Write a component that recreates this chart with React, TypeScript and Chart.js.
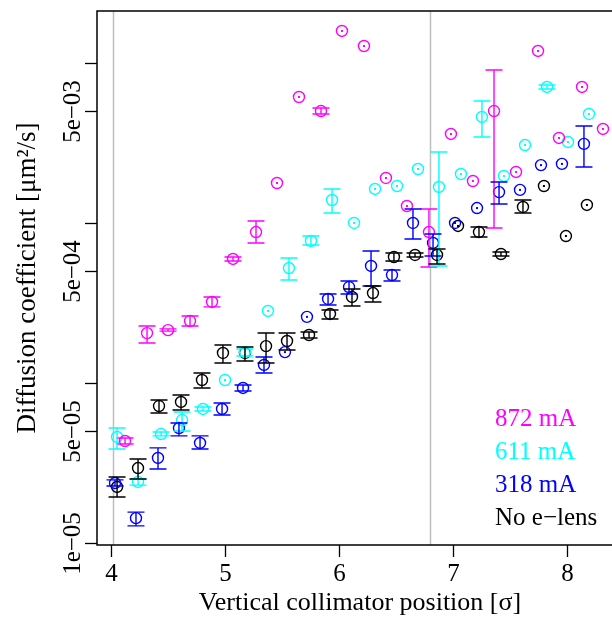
import React, { useEffect, useRef } from "react";
import { Chart, registerables } from "chart.js";
Chart.register(...registerables);

// ---- data ----
const X_NOLENS = [4.053, 4.237, 4.421, 4.614, 4.798, 4.982, 5.175, 5.36, 5.544, 5.737, 5.921, 6.114, 6.298, 6.482, 6.667, 6.86, 7.044, 7.228, 7.421, 7.614, 7.798, 7.991, 8.175];
const Y_NOLENS = [2.24e-5, 2.94e-5, 7.18e-5, 7.61e-5, 1.044e-4, 1.54e-4, 1.54e-4, 1.7e-4, 1.83e-4, 1.995e-4, 2.7e-4, 3.45e-4, 3.65e-4, 6.13e-4, 6.31e-4, 6.31e-4, 9.58e-4, 8.78e-4, 6.4e-4, 1.259e-3, 1.703e-3, 8.29e-4, 1.296e-3];
const LO_NOLENS = [1.94e-5, 2.51e-5, 6.49e-5, 6.78e-5, 9.31e-5, 1.334e-4, 1.373e-4, 1.334e-4, 1.608e-4, 1.911e-4, 2.51e-4, 3.03e-4, 3.21e-4, 5.79e-4, 6.13e-4, 5.54e-4, null, 8.17e-4, 6.22e-4, 1.155e-3, null, null, null];
const HI_NOLENS = [2.585e-5, 3.35e-5, 7.83e-5, 8.41e-5, 1.155e-4, 1.728e-4, 1.679e-4, 2.054e-4, 2.054e-4, 2.084e-4, 2.86e-4, 3.87e-4, 4.04e-4, 6.49e-4, 6.49e-4, 6.88e-4, null, 9.44e-4, 6.59e-4, 1.392e-3, null, null, null];

const X_318 = [4.035, 4.219, 4.412, 4.596, 4.781, 4.974, 5.158, 5.342, 5.526, 5.719, 5.904, 6.088, 6.281, 6.465, 6.649, 6.825, 7.018, 7.211, 7.404, 7.588, 7.772, 7.956, 8.149];
const Y_318 = [2.37e-5, 1.43e-5, 3.4e-5, 5.23e-5, 4.22e-5, 6.88e-5, 9.31e-5, 1.296e-4, 1.56e-4, 2.59e-4, 3.35e-4, 3.98e-4, 5.39e-4, 4.73e-4, 1.0e-3, 7.5e-4, 1.0e-3, 1.24e-3, 1.56e-3, 1.61e-3, 2.3e-3, 2.34e-3, 3.12e-3];
const LO_318 = [2.27e-5, 1.28e-5, 2.9e-5, 4.67e-5, 3.87e-5, 6.31e-5, 8.91e-5, 1.155e-4, null, null, 3.07e-4, 3.6e-4, 4.04e-4, 4.34e-4, 7.94e-4, 6.22e-4, null, null, 1.315e-3, null, null, null, 2.24e-3];
const HI_318 = [2.48e-5, 1.56e-5, 3.93e-5, 5.62e-5, 4.67e-5, 7.5e-5, 9.72e-5, 1.454e-4, null, null, 3.6e-4, 4.34e-4, 6.68e-4, 5.08e-4, 1.223e-3, 8.53e-4, null, null, 1.804e-3, null, null, null, 4.04e-3];

const X_611 = [4.053, 4.237, 4.439, 4.623, 4.807, 5.0, 5.175, 5.377, 5.561, 5.754, 5.939, 6.132, 6.316, 6.509, 6.693, 6.877, 7.07, 7.254, 7.447, 7.632, 7.825, 8.009, 8.193];
const Y_611 = [4.6e-5, 2.41e-5, 4.8e-5, 5.87e-5, 6.88e-5, 1.044e-4, 1.56e-4, 2.82e-4, 5.23e-4, 7.72e-4, 1.392e-3, 1.0e-3, 1.632e-3, 1.703e-3, 2.175e-3, 1.679e-3, 2.024e-3, 4.6e-3, 1.967e-3, 3.07e-3, 7.08e-3, 3.21e-3, 4.8e-3];
const LO_611 = [3.87e-5, 2.3e-5, 4.67e-5, 5.01e-5, 6.68e-5, null, 1.475e-4, null, 4.4e-4, 7.29e-4, 1.155e-3, null, null, null, null, 5.39e-4, null, 3.45e-3, null, null, 6.88e-3, null, null];
const HI_611 = [5.23e-5, 2.51e-5, 4.94e-5, 6.59e-5, 7.08e-5, null, 1.63e-4, null, 6.04e-4, 8.29e-4, 1.632e-3, null, null, null, null, 2.78e-3, null, 5.79e-3, null, null, 7.29e-3, null, null];

const X_872 = [4.123, 4.316, 4.5, 4.693, 4.886, 5.07, 5.272, 5.456, 5.649, 5.842, 6.026, 6.219, 6.412, 6.596, 6.789, 6.982, 7.175, 7.36, 7.553, 7.746, 7.93, 8.132, 8.316];
const Y_872 = [4.34e-5, 2.05e-4, 2.14e-4, 2.44e-4, 3.21e-4, 5.96e-4, 8.78e-4, 1.778e-3, 6.13e-3, 5.01e-3, 1.585e-2, 1.277e-2, 1.911e-3, 1.277e-3, 8.78e-4, 3.6e-3, 1.83e-3, 5.01e-3, 2.084e-3, 1.189e-2, 3.4e-3, 7.08e-3, 3.87e-3];
const LO_872 = [4.16e-5, 1.78e-4, 2.11e-4, 2.27e-4, 2.99e-4, 5.79e-4, 7.5e-4, null, null, 4.8e-3, null, null, null, null, 5.31e-4, null, null, 9.31e-4, null, null, null, null, null];
const HI_872 = [4.53e-5, 2.27e-4, 2.18e-4, 2.62e-4, 3.45e-4, 6.13e-4, 1.029e-3, null, null, 5.23e-3, null, null, null, null, 1.223e-3, null, null, 9.04e-3, null, null, null, null, null];

const SERIES_LABELS = ["872 mA", "611 mA", "318 mA", "No e\u2212lens"];
const X_TICKS = [4, 5, 6, 7, 8];
const Y_TICKS = [1e-5, 5e-5, 1e-4, 5e-4, 1e-3, 5e-3, 1e-2];
const Y_TICK_LABELS = ["1e\u221205", "5e\u221205", "", "5e\u221204", "", "5e\u221203", ""];
const V_LINES = [4.02, 6.8];
const X_TITLE = "Vertical collimator position [\u03c3]";
const Y_TITLE = "Diffusion coefficient [\u03bcm\u00b2/s]";

const X_MIN = 3.877;
const X_MAX = 8.395;
const Y_MIN = 9.716e-6;
const Y_MAX = 2.113e-2;

const COLORS = ["#FF00FF", "#00FFFF", "#0000FF", "#000000"];
const SERIES = [
  { xs: X_872, ys: Y_872, lo: LO_872, hi: HI_872 },
  { xs: X_611, ys: Y_611, lo: LO_611, hi: HI_611 },
  { xs: X_318, ys: Y_318, lo: LO_318, hi: HI_318 },
  { xs: X_NOLENS, ys: Y_NOLENS, lo: LO_NOLENS, hi: HI_NOLENS },
];

const FAMILY = '"Liberation Serif", "Times New Roman", serif';
const FONT = "25px " + FAMILY;

const decorPlugin = {
  id: "decor",
  beforeDatasetsDraw(chart: any) {
    const { ctx, chartArea, scales } = chart;
    const x = scales.x;
    ctx.save();
    ctx.strokeStyle = "#BEBEBE";
    ctx.lineWidth = 1.5;
    V_LINES.forEach((v) => {
      const px = Math.round(x.getPixelForValue(v)) + 0.5;
      ctx.beginPath();
      ctx.moveTo(px, chartArea.top);
      ctx.lineTo(px, chartArea.bottom);
      ctx.stroke();
    });
    ctx.restore();
  },
  afterDatasetsDraw(chart: any) {
    const { ctx, chartArea, scales } = chart;
    const x = scales.x;
    const y = scales.y;
    // error bars and center dots
    SERIES.forEach((s, si) => {
      ctx.save();
      ctx.strokeStyle = COLORS[si];
      ctx.fillStyle = COLORS[si];
      ctx.lineWidth = 1.4;
      s.xs.forEach((xv, i) => {
        const px = x.getPixelForValue(xv);
        const lo = s.lo[i];
        const hi = s.hi[i];
        if (lo == null || hi == null) {
          const py = y.getPixelForValue(s.ys[i]);
          ctx.fillRect(px - 1, py - 1, 2, 2);
        } else {
          const pl = y.getPixelForValue(lo);
          const ph = y.getPixelForValue(hi);
          ctx.beginPath();
          ctx.moveTo(px, pl);
          ctx.lineTo(px, ph);
          ctx.moveTo(px - 8.5, pl);
          ctx.lineTo(px + 8.5, pl);
          ctx.moveTo(px - 8.5, ph);
          ctx.lineTo(px + 8.5, ph);
          ctx.stroke();
        }
      });
      ctx.restore();
    });

    // frame (top, left, bottom)
    ctx.save();
    ctx.strokeStyle = "#000";
    ctx.lineWidth = 1.5;
    ctx.beginPath();
    ctx.moveTo(chart.width, chartArea.top);
    ctx.lineTo(chartArea.left, chartArea.top);
    ctx.lineTo(chartArea.left, chartArea.bottom);
    ctx.lineTo(chart.width, chartArea.bottom);
    ctx.stroke();

    // x ticks
    ctx.lineWidth = 1.3;
    ctx.fillStyle = "#000";
    ctx.font = FONT;
    ctx.textAlign = "center";
    ctx.textBaseline = "alphabetic";
    X_TICKS.forEach((t) => {
      const px = Math.round(x.getPixelForValue(t)) + 0.5;
      ctx.beginPath();
      ctx.moveTo(px, chartArea.bottom);
      ctx.lineTo(px, chartArea.bottom + 12);
      ctx.stroke();
      ctx.fillText(String(t), px, chartArea.bottom + 36);
    });
    ctx.font = "26px " + FAMILY;
    ctx.fillText(X_TITLE, 360, chartArea.bottom + 65);

    // y ticks
    ctx.font = FONT;
    Y_TICKS.forEach((t, i) => {
      const py = Math.round(y.getPixelForValue(t)) + 0.5;
      ctx.beginPath();
      ctx.moveTo(chartArea.left - 12, py);
      ctx.lineTo(chartArea.left, py);
      ctx.stroke();
      const lab = Y_TICK_LABELS[i];
      if (lab) {
        ctx.save();
        ctx.translate(80, py);
        ctx.rotate(-Math.PI / 2);
        ctx.textAlign = "center";
        ctx.fillText(lab, 0, 0);
        ctx.restore();
      }
    });
    ctx.save();
    ctx.font = "27px " + FAMILY;
    ctx.translate(35, (chartArea.top + chartArea.bottom) / 2);
    ctx.rotate(-Math.PI / 2);
    ctx.textAlign = "center";
    ctx.fillText(Y_TITLE, 0, 0);
    ctx.restore();

    // legend text
    ctx.font = FONT;
    ctx.textAlign = "left";
    SERIES_LABELS.forEach((lab, i) => {
      ctx.fillStyle = COLORS[i];
      ctx.fillText(lab, 495, 426 + i * 33);
    });
    ctx.restore();
  },
};

export default function App() {
  const ref = useRef<HTMLCanvasElement>(null);
  useEffect(() => {
    if (!ref.current) return;
    const datasets = SERIES.map((s, si) => ({
      label: SERIES_LABELS[si],
      data: s.xs.map((xv, i) => ({ x: xv, y: s.ys[i] })),
      borderColor: COLORS[si],
      backgroundColor: "rgba(0,0,0,0)",
      pointRadius: 5.5,
      pointBorderWidth: 1.4,
      pointStyle: "circle",
      showLine: false,
    }));
    const chart = new Chart(ref.current, {
      type: "scatter",
      data: { datasets },
      options: {
        animation: false,
        responsive: false,
        maintainAspectRatio: false,
        layout: { autoPadding: false, padding: { left: 97, top: 11, right: 0, bottom: 72 } },
        plugins: { legend: { display: false }, tooltip: { enabled: false } },
        scales: {
          x: { type: "linear", display: false, min: X_MIN, max: X_MAX },
          y: { type: "logarithmic", display: false, min: Y_MIN, max: Y_MAX },
        },
      },
      plugins: [decorPlugin],
    } as any);
    return () => chart.destroy();
  }, []);
  return (
    <div style={{ position: "absolute", left: 0, top: 0, width: 612, height: 617, background: "#fff" }}>
      <canvas ref={ref} width={612} height={617} style={{ display: "block" }} />
    </div>
  );
}
